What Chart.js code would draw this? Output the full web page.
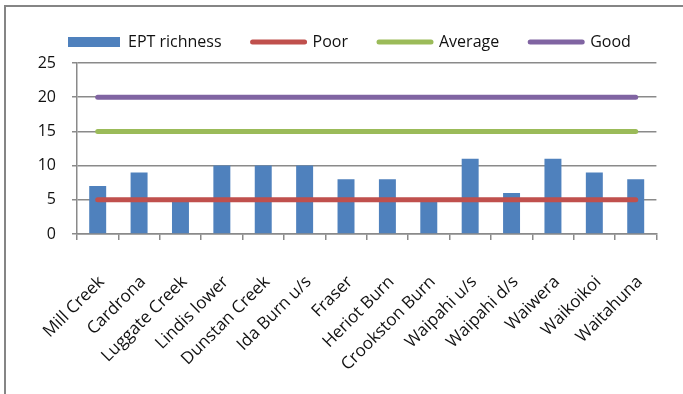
<!DOCTYPE html>
<html>
<head>
<meta charset="utf-8">
<script src="https://cdn.jsdelivr.net/npm/chart.js@4/dist/chart.umd.min.js"></script>
<style>
  html, body { margin: 0; padding: 0; background: #fff; overflow: hidden; }
  #wrap { position: relative; width: 683px; height: 394px; }
  #frame { position: absolute; left: 4px; top: 5px; width: 720px; height: 420px;
           border: 2px solid #858585; box-sizing: border-box; }
  #chart { position: absolute; left: 0; top: 0; }
</style>
</head>
<body>
<div id="wrap">
  <div id="frame"></div>
  <canvas id="chart" width="683" height="394"></canvas>
</div>
<script>
// Sampling sites
const sites = [
  'Mill Creek', 'Cardrona', 'Luggate Creek', 'Lindis lower', 'Dunstan Creek',
  'Ida Burn u/s', 'Fraser', 'Heriot Burn', 'Crookston Burn', 'Waipahi u/s',
  'Waipahi d/s', 'Waiwera', 'Waikoikoi', 'Waitahuna'
];

// EPT taxa richness at each site
const eptRichness = [7, 9, 5, 10, 10, 10, 8, 8, 5, 11, 6, 11, 9, 8];

// Condition class thresholds
const poor    = [5, 5, 5, 5, 5, 5, 5, 5, 5, 5, 5, 5, 5, 5];
const average = [15, 15, 15, 15, 15, 15, 15, 15, 15, 15, 15, 15, 15, 15];
const good    = [20, 20, 20, 20, 20, 20, 20, 20, 20, 20, 20, 20, 20, 20];

// Y axis ticks
const yTicks = [0, 5, 10, 15, 20, 25];

const FONT = "'Open Sans', 'DejaVu Sans', sans-serif";
const FONT_SIZE = 16;
const GRID = '#8a8a8a';
const TEXT = '#111111';

function thresholdLine(label, data, color) {
  return {
    type: 'line', label, data,
    borderColor: color, backgroundColor: color,
    borderWidth: 5, borderCapStyle: 'round',
    pointRadius: 0, pointHoverRadius: 0,
    fill: false, tension: 0, order: 1
  };
}

// Places the legend row independently of the plot area
const legendPlacer = {
  id: 'legendPlacer',
  afterLayout(chart) {
    const lg = chart.legend;
    if (!lg) return;
    const pad = lg.options.labels.padding;
    const w = lg.right - lg.left;
    lg.left = 68 - pad; lg.right = lg.left + w;
    const h = lg.bottom - lg.top;
    lg.top = 42 - FONT_SIZE / 2 - pad; lg.bottom = lg.top + h;
  }
};

new Chart(document.getElementById('chart'), {
  type: 'bar',
  data: {
    labels: sites,
    datasets: [
      {
        label: 'EPT richness', data: eptRichness,
        backgroundColor: '#4F81BD', borderWidth: 0,
        categoryPercentage: 1.0, barPercentage: 0.41, order: 2
      },
      thresholdLine('Poor', poor, '#C0504D'),
      thresholdLine('Average', average, '#9BBB59'),
      thresholdLine('Good', good, '#8064A2')
    ]
  },
  options: {
    responsive: false,
    animation: false,
    events: [],
    layout: { padding: { left: 0, right: 24, top: 6, bottom: 0 } },
    plugins: {
      tooltip: { enabled: false },
      legend: {
        position: 'top',
        align: 'start',
        labels: {
          font: { family: FONT, size: FONT_SIZE },
          color: TEXT,
          padding: 31,
          boxHeight: 10,
          usePointStyle: true,
          pointStyleWidth: 52,
          sort: (a, b) => a.datasetIndex - b.datasetIndex,
          generateLabels(chart) {
            const items = Chart.defaults.plugins.legend.labels.generateLabels(chart);
            items.forEach(it => {
              const ds = chart.data.datasets[it.datasetIndex];
              const isLine = ds.type === 'line';
              it.pointStyle = isLine ? 'line' : 'rect';
              it.fillStyle = ds.backgroundColor;
              it.strokeStyle = ds.borderColor || ds.backgroundColor;
              it.lineWidth = isLine ? 5 : 0;
              it.lineCap = 'round';
            });
            return items;
          }
        }
      }
    },
    scales: {
      x: {
        offset: true,
        grid: {
          offset: true, drawOnChartArea: false, drawTicks: true,
          tickLength: 6, color: GRID, lineWidth: 1.5
        },
        border: { display: true, color: GRID, width: 1.5 },
        ticks: {
          autoSkip: false, minRotation: 45, maxRotation: 45,
          padding: 32, labelOffset: 4,
          font: { family: FONT, size: 17 }, color: TEXT
        },
        afterFit(scale) { scale.height = 160; }
      },
      y: {
        min: 0, max: 25,
        afterBuildTicks(scale) { scale.ticks = yTicks.map(v => ({ value: v })); },
        grid: { color: GRID, lineWidth: 1.5, tickLength: 5, drawTicks: true },
        border: { display: true, color: GRID, width: 1.5 },
        ticks: {
          padding: 16,
          font: { family: FONT, size: FONT_SIZE }, color: TEXT
        },
        afterFit(scale) { scale.width = 77; }
      }
    }
  },
  plugins: [legendPlacer]
});
</script>
</body>
</html>
